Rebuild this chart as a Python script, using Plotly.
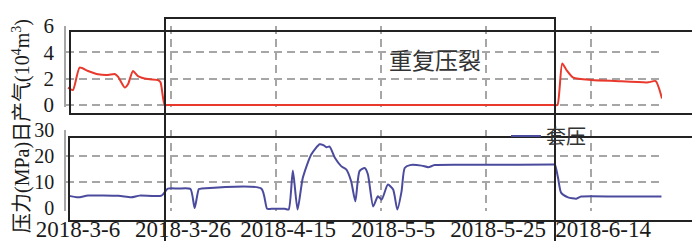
import pandas as pd
import plotly.graph_objects as go

W, H = 700, 241
BASE = pd.Timestamp("2018-03-06")

# ---- data (days after 2018-03-06, values) ----
gas_days = [0.38, 1.33, 2.6, 4.19, 6.1, 8.0, 9.27, 9.9, 11.2, 11.8, 12.76, 13.7, 15.6, 17.5, 18.0, 18.8,
            19.5, 30.0, 50.0, 70.0, 92.5, 93.1, 93.6, 94.5, 95.3, 96.6, 100.1, 104.5, 110.9, 112.3, 113.5]
gas_vals = [1.32, 1.14, 2.84, 2.58, 2.33, 2.28, 2.35, 2.15, 1.32, 1.57, 2.58, 2.2, 1.97, 1.9, 1.72, 0.0,
            0.0, 0.0, 0.0, 0.0, 0.0, 0.0, 0.0, 3.16, 2.66, 2.08, 1.9, 1.82, 1.72, 1.82, 0.5]

cp_days = [0.4, 2.3, 4.2, 10.0, 12.4, 14.0, 18.2, 19.4, 21.3, 23.7, 24.5, 25.3, 25.8, 37.2, 38.3, 39.1,
           41.7, 42.4, 43.2, 44.1, 45.1, 46.7, 48.3, 49.0, 49.6, 50.2, 51.2, 52.4, 53.4, 54.3, 55.1,
           55.9, 56.9, 57.5, 58.5, 59.4, 60.1, 61.3, 62.3, 63.1, 63.9, 64.5, 65.5, 67.7, 69.0, 70.2,
           80.0, 92.8, 93.1, 93.7, 94.3, 95.6, 97.2, 98.1, 105.0, 113.4]
cp_vals = [4.76, 4.1, 4.76, 4.7, 4.1, 4.76, 4.76, 7.46, 7.46, 7.3, 0.0, 7.3, 7.46, 7.46, -0.3, -0.3,
           -0.3, -0.6, 14.4, -0.6, 11.6, 20.6, 24.5, 24.2, 23.4, 23.6, 19.3, 16.1, 14.8, 10.3, 2.6,
           14.2, 15.4, 12.9, 0.6, 4.5, 3.2, 9.0, 7.1, -0.6, 6.4, 15.4, 16.5, 16.3, 15.7, 16.5,
           16.6, 16.7, 16.7, 11.6, 5.8, 4.1, 3.6, 4.4, 4.4, 4.4]

tick_days = [0, 20, 40, 60, 80, 100]
tick_text = ["2018-3-6", "2018-3-26", "2018-4-15", "2018-5-5", "2018-5-25", "2018-6-14"]
gas_ticks = [0, 2, 4, 6]
cp_ticks = [0, 10, 20, 30]
cp_grid = [10, 20, 30]

def to_dates(days):
    return [BASE + pd.Timedelta(days=d) for d in days]

def px(x):
    return x / W

def py(y):
    return (H - y) / H

SERIF = "'Liberation Serif', 'Times New Roman', 'DejaVu Serif', 'Noto Sans CJK SC', serif"
CJK = "'Noto Sans CJK SC', sans-serif"
GRID = "#a6a6a6"
DASH = "8px,5px"
RED = "#e8392c"
BLUE = "#4b4b9e"
TXT = "#1a1a1a"

fig = go.Figure()
fig.add_trace(go.Scatter(x=to_dates(gas_days), y=gas_vals, mode="lines",
                         line=dict(color=RED, width=2, shape="spline", smoothing=0.6),
                         xaxis="x", yaxis="y", showlegend=False, name="日产气"))
fig.add_trace(go.Scatter(x=to_dates(cp_days), y=cp_vals, mode="lines",
                         line=dict(color=BLUE, width=2, shape="spline", smoothing=0.6),
                         xaxis="x2", yaxis="y2", showlegend=True, name="套压"))
# empty trace so the grid-only overlay axis is drawn
fig.add_trace(go.Scatter(x=[None], y=[None], xaxis="x2", yaxis="y3", showlegend=False,
                         hoverinfo="skip"))

xr = [BASE, BASE + pd.Timedelta(days=113.5)]
xdom = [px(58), px(654)]
tickvals = to_dates(tick_days)

common_x = dict(type="date", range=xr, domain=xdom, tickvals=tickvals, ticktext=tick_text,
                showgrid=True, gridcolor=GRID, griddash=DASH, gridwidth=1.5,
                zeroline=False, showline=False, ticks="", tickangle=0, automargin=False)

# small room below zero so the lines at 0 are not clipped
Y1_LO, Y2_LO = -0.15, -1.2
fig.update_layout(
    template="none",
    width=W, height=H,
    margin=dict(l=0, r=0, t=0, b=0, pad=0, autoexpand=False),
    paper_bgcolor="white", plot_bgcolor="white",
    font=dict(family=SERIF, color=TXT, size=20),
    xaxis=dict(**common_x, anchor="y", showticklabels=False),
    xaxis2=dict(**common_x, anchor="y2", showticklabels=True,
                tickfont=dict(size=23, family=SERIF, color=TXT),
                ticklabelshift=12, ticklabelstandoff=2),
    yaxis=dict(domain=[py(97 - Y1_LO * 13.17), py(18)], range=[Y1_LO, 6], tickvals=gas_ticks,
               showgrid=True, gridcolor=GRID, griddash=DASH, gridwidth=1.5,
               zeroline=False, showline=True, linecolor=GRID, linewidth=1.5,
               ticks="", ticklabelstandoff=6, anchor="x", automargin=False,
               tickfont=dict(size=21, family=SERIF, color=TXT)),
    yaxis2=dict(domain=[py(200 - Y2_LO * 2.6), py(122)], range=[Y2_LO, 30], tickvals=cp_ticks,
                showgrid=False, zeroline=False, showline=True, linecolor=GRID, linewidth=1.5,
                ticks="", ticklabelstandoff=6, anchor="x2", automargin=False,
                tickfont=dict(size=20, family=SERIF, color=TXT)),
    yaxis3=dict(domain=[py(200 - Y2_LO * 2.6), py(122)], range=[Y2_LO, 30], tickvals=cp_grid,
                overlaying="y2", anchor="x2", showticklabels=False, automargin=False,
                showgrid=True, gridcolor=GRID, griddash=DASH, gridwidth=1.5,
                zeroline=False, showline=False, ticks=""),
    legend=dict(x=px(498), y=py(128), xanchor="left", yanchor="middle",
                bgcolor="rgba(0,0,0,0)", borderwidth=0,
                font=dict(size=20, family=CJK, color="#333"), itemwidth=30),
)

box_line = dict(color="#222222", width=2)
for x0, y0, x1, y1 in [(62, 23, 698, 106), (61, 129, 697, 213), (157, 10, 547, 235)]:
    fig.add_shape(type="rect", xref="paper", yref="paper",
                  x0=px(x0), x1=px(x1), y0=py(y1), y1=py(y0),
                  line=box_line, fillcolor="rgba(0,0,0,0)", layer="above")

fig.add_annotation(text="重复压裂", x=px(427), y=py(51), xref="paper", yref="paper",
                   showarrow=False, font=dict(size=23, family=CJK, color="#333"),
                   xanchor="center", yanchor="middle")
fig.add_annotation(text="压力(MPa)日产气(10<sup>4</sup>m<sup>3</sup>)", x=px(13), y=py(118),
                   xref="paper", yref="paper", textangle=-90, showarrow=False,
                   font=dict(size=20, family=SERIF, color=TXT),
                   xanchor="center", yanchor="middle")

fig.write_html("out.html")
